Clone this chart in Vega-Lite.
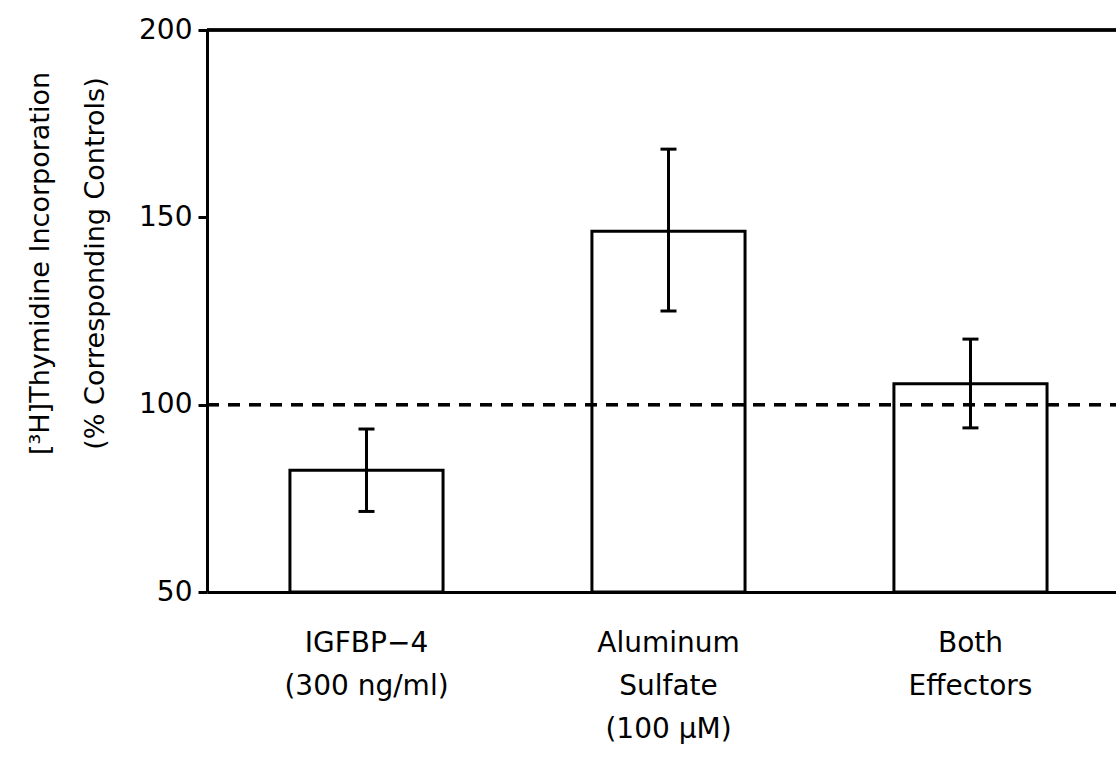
{
  "$schema": "https://vega.github.io/schema/vega-lite/v6.json",
  "width": 909,
  "height": 562,
  "autosize": {"type": "none"},
  "padding": {"left": 207, "top": 30, "right": 0, "bottom": 175},
  "background": "white",
  "config": {
    "view": {"stroke": null},
    "font": "DejaVu Sans",
    "axis": {"labelColor": "black", "titleColor": "black", "domainColor": "black", "tickColor": "black", "grid": false}
  },
  "data": {
    "values": [
      {"treatment": "IGFBP−4|(300 ng/ml)", "value": 82.5, "lo": 71.5, "hi": 93.5},
      {"treatment": "Aluminum|Sulfate|(100 μM)", "value": 146.3, "lo": 125, "hi": 168.2},
      {"treatment": "Both|Effectors", "value": 105.6, "lo": 93.8, "hi": 117.5}
    ]
  },
  "encoding": {
    "x": {
      "field": "treatment",
      "type": "nominal",
      "sort": null,
      "scale": {"paddingInner": 0.493, "paddingOuter": 0.2515, "align": 0.546},
      "axis": {
        "title": null,
        "labelAngle": 0,
        "labelExpr": "split(datum.label, '|')",
        "labelFontSize": 28,
        "labelLineHeight": 43,
        "labelPadding": 37,
        "ticks": false,
        "domainWidth": 3,
        "labelBaseline": "top"
      }
    }
  },
  "layer": [
    {
      "mark": {"type": "bar", "fill": "white", "stroke": "black", "strokeWidth": 3},
      "encoding": {
        "y": {
          "field": "value",
          "type": "quantitative",
          "scale": {"domain": [50, 200], "nice": false, "zero": false},
          "axis": {
            "values": [50, 100, 150, 200],
            "title": ["[³H]Thymidine Incorporation", "(% Corresponding Controls)"],
            "titleFontSize": 27,
            "titleFontWeight": "normal",
            "titleLineHeight": 55,
            "titleBaseline": "middle",
            "titleAngle": -90,
            "titleX": -167,
            "titleY": 233,
            "labelFontSize": 28,
            "labelPadding": 6,
            "tickSize": 9,
            "tickWidth": 3,
            "domainWidth": 3
          }
        },
        "y2": {"datum": 50}
      }
    },
    {
      "mark": {"type": "rule", "stroke": "black", "strokeWidth": 3, "strokeDash": [12, 9]},
      "encoding": {"y": {"datum": 100}, "x": {"value": 0}, "x2": {"value": 909}}
    },
    {
      "mark": {"type": "rule", "stroke": "black", "strokeWidth": 3},
      "encoding": {"y": {"datum": 200}, "x": {"value": 0}, "x2": {"value": 909}}
    },
    {
      "mark": {"type": "rule", "stroke": "black", "strokeWidth": 3},
      "encoding": {"y": {"field": "lo", "type": "quantitative"}, "y2": {"field": "hi"}}
    },
    {
      "mark": {"type": "tick", "color": "black", "thickness": 3, "size": 16, "opacity": 1},
      "encoding": {"y": {"field": "lo", "type": "quantitative"}}
    },
    {
      "mark": {"type": "tick", "color": "black", "thickness": 3, "size": 16, "opacity": 1},
      "encoding": {"y": {"field": "hi", "type": "quantitative"}}
    }
  ]
}
